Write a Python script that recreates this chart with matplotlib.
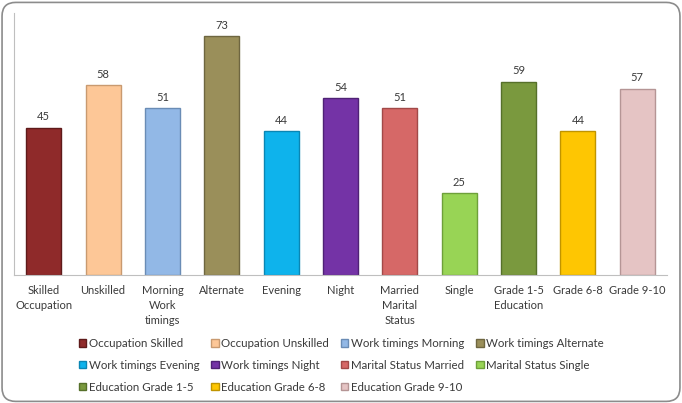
import matplotlib.pyplot as plt
from matplotlib.patches import FancyBboxPatch, Patch

plt.rcParams['font.family'] = ['Lato', 'DejaVu Sans']

categories = ['Skilled\nOccupation', 'Unskilled', 'Morning\nWork\ntimings', 'Alternate',
              'Evening', 'Night', 'Married\nMarital\nStatus', 'Single',
              'Grade 1-5\nEducation', 'Grade 6-8', 'Grade 9-10']
values = [45, 58, 51, 73, 44, 54, 51, 25, 59, 44, 57]
series = ['Occupation Skilled', 'Occupation Unskilled', 'Work timings Morning',
          'Work timings Alternate', 'Work timings Evening', 'Work timings Night',
          'Marital Status Married', 'Marital Status Single', 'Education Grade 1-5',
          'Education Grade 6-8', 'Education Grade 9-10']
colors = ['#8f2a2a', '#fdc797', '#92b8e6', '#9a8f5a', '#0eb3ec', '#7433a6',
          '#d66867', '#98d455', '#7a993e', '#fec602', '#e5c4c4']
edges = ['#5e1a1a', '#c99a70', '#6a8cb5', '#6e6640', '#0a86b4', '#4f2275',
         '#a24948', '#6ea03a', '#56702a', '#c09400', '#b59595']

text_color = '#3a3a3a'

fig = plt.figure(figsize=(6.82, 4.03), dpi=100)
ax = fig.add_axes([0.0205, 0.3176, 0.9575, 0.6494])

x = range(len(values))
bars = ax.bar(x, values, width=0.59, color=colors, edgecolor=edges, linewidth=1.0)
for xi, v in zip(x, values):
    ax.annotate(str(v), (xi, v), xytext=(0, 4), textcoords='offset points',
                ha='center', va='bottom', fontsize=8, color=text_color)

ax.set_xlim(-0.5, len(values) - 0.5)
ax.set_ylim(0, 80)
ax.set_xticks(list(x))
ax.set_xticklabels(categories, fontsize=8, color=text_color, linespacing=1.45)
ax.tick_params(axis='x', length=0, pad=7)
ax.set_yticks([])
for side in ['top', 'right']:
    ax.spines[side].set_visible(False)
ax.spines['left'].set_color('#bfbfbf')
ax.spines['bottom'].set_color('#bfbfbf')

handles = [Patch(facecolor=c, edgecolor=e, label=s) for c, e, s in zip(colors, edges, series)]
order = [0, 4, 8, 1, 5, 9, 2, 6, 10, 3, 7]
fig.legend([handles[i] for i in order], [series[i] for i in order],
           loc='lower left', bbox_to_anchor=(0.1, 0.0), ncol=4, frameon=False,
           fontsize=8.3, labelcolor=text_color, handlelength=0.65, handleheight=0.65,
           handletextpad=0.25, columnspacing=1.0, labelspacing=0.95)

border = FancyBboxPatch((0.003, 0.004), 0.994, 0.99, boxstyle='round,pad=0,rounding_size=0.02',
                        transform=fig.transFigure, facecolor='none', edgecolor='#8c8c8c',
                        linewidth=1.2, mutation_aspect=682 / 403)
fig.patches.append(border)

fig.savefig('out.png', dpi=100)
